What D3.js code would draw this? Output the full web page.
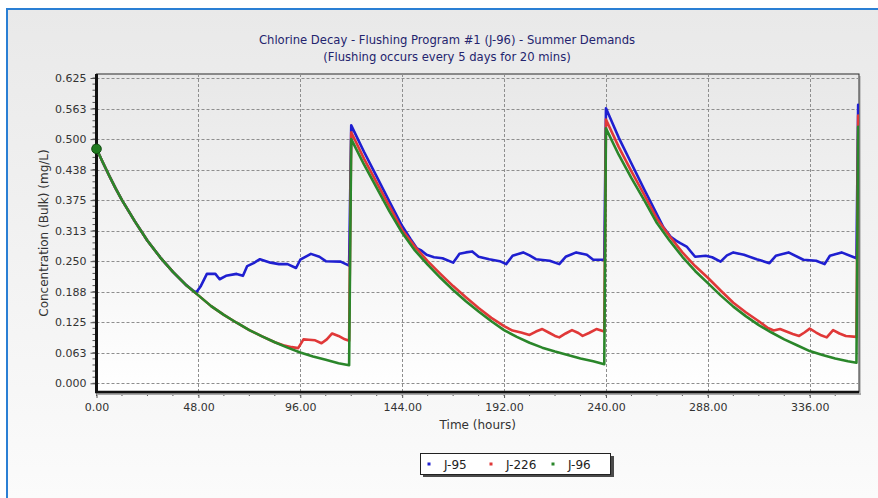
<!DOCTYPE html>
<html>
<head>
<meta charset="utf-8">
<script src="https://cdn.jsdelivr.net/npm/d3@7"></script>
<style>
  html, body { margin: 0; padding: 0; background: #ffffff; }
  svg { display: block; font-family: Tahoma, "DejaVu Sans", "Liberation Sans", sans-serif; }
</style>
</head>
<body>
<svg id="chart" width="878" height="498"></svg>
<script>
// Chlorine concentration (mg/L) over time (hours) at three junctions
const seriesNames = ["J-95", "J-226", "J-96"];
const seriesColors = ["#1f1fd0", "#e03838", "#2a862a"];

const j95 = [
  [0,0.480],[3,0.452],[6,0.425],[9,0.399],[12,0.375],[18,0.332],[24,0.292],[30,0.258],[36,0.228],[42,0.202],
  [44,0.195],[45.5,0.190],[47,0.186],[49,0.198],[52,0.224],[56,0.224],[58,0.213],[61,0.220],[66,0.224],[69,0.220],
  [71,0.240],[74,0.246],[77,0.254],[82,0.247],[86,0.244],[90,0.244],[94,0.236],[96,0.253],[101,0.265],[105,0.259],
  [108,0.250],[115,0.249],[119,0.241],
  [120,0.528],[126,0.474],[132,0.423],[138,0.372],[144,0.322],[148,0.295],[151,0.276],[153,0.272],[155.5,0.263],
  [159,0.258],[163,0.256],[168,0.247],[171,0.265],[174,0.268],[177,0.270],[180,0.259],[185,0.254],[190,0.250],
  [193,0.244],[196,0.261],[201,0.268],[204,0.262],[207,0.254],[213.5,0.251],[218,0.244],[221,0.259],[226,0.268],
  [231,0.263],[234,0.253],[239.2,0.253],
  [240,0.563],[246,0.503],[252,0.450],[258,0.397],[264,0.346],[267,0.320],[270.5,0.300],[273,0.292],[275,0.287],
  [278,0.280],[282,0.259],[287,0.261],[290,0.258],[294,0.249],[297,0.262],[300,0.268],[305,0.263],[311,0.254],
  [317,0.246],[320,0.261],[326,0.268],[333,0.253],[339,0.251],[343,0.244],[345.5,0.261],[351,0.268],[358,0.256],
  [358.8,0.570]
];

const j226 = [
  [0,0.480],[3,0.452],[6,0.425],[9,0.399],[12,0.375],[18,0.332],[24,0.292],[30,0.258],[36,0.228],[42,0.202],
  [48,0.180],[54,0.158],[60,0.140],[66,0.124],[72,0.109],[78,0.096],[84,0.084],
  [88,0.078],[92,0.074],[95,0.072],[97.5,0.090],[100,0.089],[103,0.088],[106,0.082],[108.5,0.090],[111,0.102],
  [114,0.097],[117,0.090],[119,0.087],
  [120,0.514],[126,0.460],[132,0.411],[138,0.362],[144,0.314],[150,0.280],[156,0.250],[162,0.224],[168,0.199],
  [174,0.176],[180,0.154],[186,0.134],[192,0.117],[196,0.108],[200,0.104],[204,0.099],[207,0.106],[210,0.111],
  [213,0.104],[216,0.097],[218,0.094],[221,0.102],[224,0.109],[227,0.103],[229,0.097],[232,0.103],[235.5,0.111],
  [239.2,0.106],
  [240,0.540],[246,0.484],[252,0.434],[258,0.386],[264,0.337],[270,0.301],[276,0.268],[282,0.240],[288,0.216],
  [294,0.190],[300,0.165],[306,0.145],[312,0.127],[316,0.114],[319,0.108],[322,0.111],[325,0.106],[328,0.101],
  [331,0.097],[333.5,0.104],[336,0.112],[339,0.104],[341,0.099],[344,0.094],[347,0.109],[350,0.102],[353,0.097],
  [358,0.095],[358.8,0.548]
];

const j96 = [
  [0,0.480],[3,0.452],[6,0.425],[9,0.399],[12,0.375],[18,0.332],[24,0.292],[30,0.258],[36,0.228],[42,0.202],
  [48,0.180],[54,0.158],[60,0.140],[66,0.124],[72,0.109],[78,0.096],[84,0.084],[90,0.073],[96,0.063],[102,0.055],
  [108,0.048],[114,0.041],[119,0.037],
  [120,0.500],[126,0.448],[132,0.400],[138,0.352],[144,0.308],[150,0.272],[156,0.243],[162,0.216],[168,0.191],
  [174,0.168],[180,0.147],[186,0.127],[192,0.109],[198,0.095],[204,0.083],[210,0.073],[216,0.065],[222,0.058],
  [228,0.051],[234,0.045],[239.2,0.039],
  [240,0.522],[246,0.468],[252,0.420],[258,0.375],[264,0.328],[270,0.292],[276,0.259],[282,0.230],[288,0.205],
  [294,0.180],[300,0.157],[306,0.137],[312,0.119],[318,0.104],[324,0.090],[330,0.078],[336,0.066],[342,0.058],
  [348,0.051],[354,0.045],[358,0.042],[358.8,0.525]
];

const xTicks = [0, 48, 96, 144, 192, 240, 288, 336];
const xTickLabels = ["0.00", "48.00", "96.00", "144.00", "192.00", "240.00", "288.00", "336.00"];
const yTicks = [0, 0.0625, 0.125, 0.1875, 0.25, 0.3125, 0.375, 0.4375, 0.5, 0.5625, 0.625];
const yTickLabels = ["0.000", "0.063", "0.125", "0.188", "0.250", "0.313", "0.375", "0.438", "0.500", "0.563", "0.625"];

const titleLines = ["Chlorine Decay - Flushing Program #1 (J-96) - Summer Demands",
                    "(Flushing occurs every 5 days for 20 mins)"];
const xTitle = "Time (hours)";
const yTitle = "Concentration (Bulk) (mg/L)";

const svg = d3.select("#chart");
const W = 878, H = 498;
const plot = { left: 96.5, right: 859, top: 74, bottom: 392 };

const x = d3.scaleLinear().domain([0, 359.2]).range([plot.left, plot.right]);
const y = d3.scaleLinear().domain([-0.0178, 0.6332]).range([plot.bottom, plot.top]);

const defs = svg.append("defs");
const panelGrad = defs.append("linearGradient").attr("id", "panelGrad")
  .attr("x1", 0).attr("y1", 0).attr("x2", 0).attr("y2", 1);
panelGrad.append("stop").attr("offset", "0%").attr("stop-color", "#e9e9e9");
panelGrad.append("stop").attr("offset", "100%").attr("stop-color", "#fbfbfb");
const plotGrad = defs.append("linearGradient").attr("id", "plotGrad")
  .attr("x1", 0).attr("y1", 0).attr("x2", 0).attr("y2", 1);
plotGrad.append("stop").attr("offset", "0%").attr("stop-color", "#e8e8e8");
plotGrad.append("stop").attr("offset", "100%").attr("stop-color", "#ffffff");
defs.append("clipPath").attr("id", "plotClip").append("rect")
  .attr("x", plot.left).attr("y", plot.top)
  .attr("width", plot.right - plot.left).attr("height", plot.bottom - plot.top);

// panel background and blue border
svg.append("rect").attr("x", 7).attr("y", 9).attr("width", W - 7).attr("height", H - 9)
  .attr("fill", "url(#panelGrad)");
svg.append("path").attr("d", `M7,${H} V9 H${W}`)
  .attr("fill", "none").attr("stroke", "#2a7fd4").attr("stroke-width", 2);

// titles
svg.append("g").selectAll("text").data(titleLines).join("text")
  .attr("x", 447).attr("y", (d, i) => 44 + i * 17)
  .attr("text-anchor", "middle").attr("font-size", 11.6).attr("fill", "#24246e")
  .text(d => d);

// plot frame shadow + background
svg.append("rect").attr("x", plot.left + 2).attr("y", plot.top + 2)
  .attr("width", plot.right - plot.left).attr("height", plot.bottom - plot.top)
  .attr("fill", "#c4c4c4");
svg.append("rect").attr("x", plot.left).attr("y", plot.top)
  .attr("width", plot.right - plot.left).attr("height", plot.bottom - plot.top)
  .attr("fill", "url(#plotGrad)").attr("stroke", "#2a2a2a").attr("stroke-width", 1);

// grid lines
const grid = svg.append("g").attr("stroke", "#8e8e8e").attr("stroke-width", 1)
  .attr("stroke-dasharray", "3,2").attr("fill", "none");
grid.selectAll("line.h").data(yTicks).join("line").attr("class", "h")
  .attr("x1", plot.left).attr("x2", plot.right)
  .attr("y1", d => Math.round(y(d)) + 0.5).attr("y2", d => Math.round(y(d)) + 0.5);
grid.selectAll("line.v").data(xTicks.filter(d => d > 0)).join("line").attr("class", "v")
  .attr("y1", plot.top).attr("y2", plot.bottom)
  .attr("x1", d => Math.round(x(d)) + 0.5).attr("x2", d => Math.round(x(d)) + 0.5);

// axes
const yAxis = d3.axisLeft(y).tickValues(yTicks).tickSize(5).tickPadding(4)
  .tickFormat((d, i) => yTickLabels[i]);
const gy = svg.append("g").attr("transform", `translate(${plot.left - 1},0)`).call(yAxis);
const yMinor = d3.range(0, 0.6251, 0.0125);
svg.append("g").selectAll("line").data(yMinor).join("line")
  .attr("x1", plot.left - 4).attr("x2", plot.left - 1)
  .attr("y1", d => y(d)).attr("y2", d => y(d))
  .attr("stroke", "#555").attr("stroke-width", 1);

const xAxis = d3.axisBottom(x).tickValues(xTicks).tickSize(5).tickPadding(5)
  .tickFormat((d, i) => xTickLabels[i]);
const gx = svg.append("g").attr("transform", `translate(0,${plot.bottom + 1})`).call(xAxis);
const xMinor = d3.range(0, 358, 12);
svg.append("g").selectAll("line").data(xMinor).join("line")
  .attr("x1", d => x(d)).attr("x2", d => x(d))
  .attr("y1", plot.bottom + 1).attr("y2", plot.bottom + 4)
  .attr("stroke", "#555").attr("stroke-width", 1);

[gx, gy].forEach(g => {
  g.select(".domain").remove();
  g.selectAll(".tick line").attr("stroke", "#555");
  g.selectAll(".tick text").attr("font-size", 11).attr("fill", "#333")
    .attr("font-family", "Tahoma, 'DejaVu Sans', 'Liberation Sans', sans-serif");
});

// thick axis lines
svg.append("line").attr("x1", plot.left).attr("x2", plot.left)
  .attr("y1", plot.top).attr("y2", plot.bottom + 1)
  .attr("stroke", "#111").attr("stroke-width", 3);
svg.append("line").attr("x1", plot.left).attr("x2", plot.right + 2)
  .attr("y1", plot.bottom + 2).attr("y2", plot.bottom + 2)
  .attr("stroke", "#a8a8a8").attr("stroke-width", 2);
svg.append("line").attr("x1", plot.left - 1.5).attr("x2", plot.right)
  .attr("y1", plot.bottom).attr("y2", plot.bottom)
  .attr("stroke", "#111").attr("stroke-width", 2.5);

// axis titles
svg.append("text").attr("x", (plot.left + plot.right) / 2).attr("y", 429)
  .attr("text-anchor", "middle").attr("font-size", 12).attr("fill", "#333").text(xTitle);
svg.append("text").attr("transform", `translate(48,${(plot.top + plot.bottom) / 2}) rotate(-90)`)
  .attr("text-anchor", "middle").attr("font-size", 12).attr("fill", "#333").text(yTitle);

// series lines
const line = d3.line().x(d => x(d[0])).y(d => y(d[1]));
const series = [j95, j226, j96];
svg.append("g").attr("clip-path", "url(#plotClip)")
  .selectAll("path").data(series).join("path")
  .attr("d", line).attr("fill", "none")
  .attr("stroke", (d, i) => seriesColors[i]).attr("stroke-width", 2.6)
  .attr("stroke-linejoin", "round").attr("stroke-linecap", "round");

// starting point marker
svg.append("circle").attr("cx", x(j96[0][0])).attr("cy", y(j96[0][1])).attr("r", 4.8)
  .attr("fill", "#1f7a1f").attr("stroke", "#0e4a0e").attr("stroke-width", 1);

// legend
const lg = svg.append("g").attr("transform", "translate(420,453)");
lg.append("rect").attr("x", 3).attr("y", 3).attr("width", 191).attr("height", 21).attr("fill", "#4a4a4a");
lg.append("rect").attr("x", 0.5).attr("y", 0.5).attr("width", 190).attr("height", 21)
  .attr("fill", "#ffffff").attr("stroke", "#222").attr("stroke-width", 1);
const legendX = [9, 71, 133];
const items = lg.selectAll("g.item").data(seriesNames).join("g").attr("class", "item")
  .attr("transform", (d, i) => `translate(${legendX[i]},0)`);
items.append("rect").attr("x", -1.5).attr("y", 9.5).attr("width", 3).attr("height", 3)
  .attr("fill", (d, i) => seriesColors[i]);
items.append("text").attr("x", 15).attr("y", 15.5).attr("font-size", 12).attr("fill", "#222")
  .text(d => d);
</script>
</body>
</html>
